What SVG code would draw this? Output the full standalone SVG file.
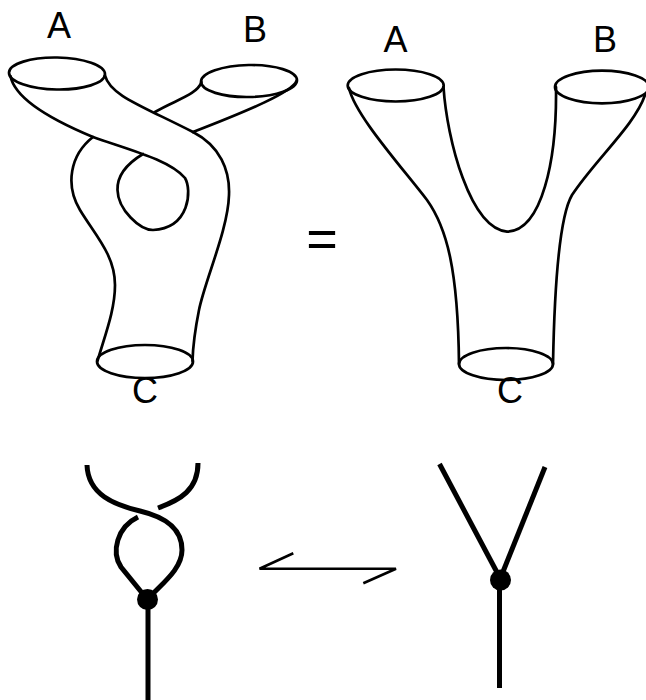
<svg xmlns="http://www.w3.org/2000/svg" width="646" height="700" viewBox="0 0 646 700">
<style>
.s{fill:none;stroke:#000;stroke-width:2.7;stroke-linecap:round;stroke-linejoin:round}
.g{fill:none;stroke:#000;stroke-width:5}
.a{fill:none;stroke:#000;stroke-width:2.6;stroke-linejoin:miter}
.lbl{font-family:"Liberation Sans",Arial,sans-serif;font-size:36px;fill:#000;text-anchor:middle}
</style>
<rect width="646" height="700" fill="#fff"/>
<g id="twisted-pants">
<ellipse class="s" cx="57" cy="73.5" rx="48" ry="16" transform="rotate(1 57 73.5)"/>
<ellipse class="s" cx="249" cy="81" rx="48" ry="16" transform="rotate(-1 249 81)"/>
<ellipse class="s" cx="145" cy="361.5" rx="48" ry="16.5"/>
<path class="s" d="M10.5,76 C14,95 40,115 93,137 C130,150 170,160 185,178 C192,190 190,228 153,230 C140,230 118,210 117.5,190 C117,175 128,163 143,154"/>
<path class="s" d="M105,75.5 C110,95 140,105 193,132 C220,146 230,170 229,195 C228,230 205,280 199,310 C195,330 193,345 192.5,361"/>
<path class="s" d="M201.5,82 C197,95 175,100 155,112"/>
<path class="s" d="M296.5,81 C292,92 250,110 193,132"/>
<path class="s" d="M93,137 C70,155 65,185 80,210 C95,235 115,255 115,285 C115,310 105,335 97.5,361"/>
</g>
<g id="equals">
<text class="lbl" x="322" y="257" style="font-size:54px">=</text>
</g>
<g id="pants">
<ellipse class="s" cx="395.7" cy="85.5" rx="48" ry="16"/>
<ellipse class="s" cx="602" cy="87" rx="47" ry="16.3"/>
<ellipse class="s" cx="506" cy="364" rx="47" ry="16"/>
<path class="s" d="M349,88 C355,115 400,165 427,200 C447,228 458,270 459,364"/>
<path class="s" d="M443.5,87 C447,140 470,228 507,231.7 C542,231 557,160 556,87"/>
<path class="s" d="M645,95 C635,125 595,160 572,195 C562,212 555,260 553,364"/>
</g>
<g id="labels">
<text class="lbl" x="59" y="37.5">A</text>
<text class="lbl" x="255" y="42">B</text>
<text class="lbl" x="145" y="403">C</text>
<text class="lbl" x="395.5" y="52">A</text>
<text class="lbl" x="605" y="52">B</text>
<text class="lbl" x="510" y="403">C</text>
</g>
<g id="braid-graph">
<path class="g" d="M87,465 C88,495 115,505 140,511 C165,517 182,528 182,550 C182,570 160,585 148,599"/>
<path class="g" d="M198,463 C198,490 180,500 158,508"/>
<path class="g" d="M138,517 C117,527 111,552 121,567 L147,599"/>
<line class="g" x1="148" y1="600" x2="148" y2="700"/>
<circle cx="147.5" cy="599.5" r="10.5" fill="#000"/>
</g>
<g id="y-graph">
<line class="g" x1="439.5" y1="464" x2="500" y2="578"/>
<line class="g" x1="545" y1="467" x2="500.5" y2="578"/>
<line class="g" x1="499.5" y1="580" x2="499.5" y2="688"/>
<circle cx="500.5" cy="580" r="10.5" fill="#000"/>
</g>
<g id="connectors">
<path class="a" d="M293.3,553.3 L259.5,568.7 L396,568.7 L363.3,583.3"/>
</g>
</svg>
